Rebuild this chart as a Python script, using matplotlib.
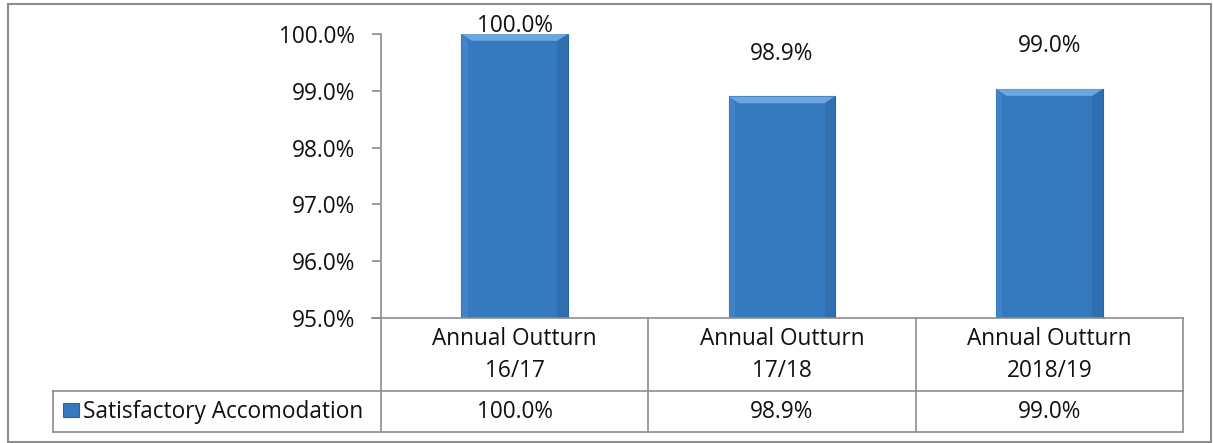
import matplotlib
matplotlib.use("Agg")
import matplotlib.pyplot as plt
import matplotlib.transforms as mtransforms
from matplotlib.patches import Rectangle, Polygon
from matplotlib.lines import Line2D

categories = ["Annual Outturn\n16/17", "Annual Outturn\n17/18", "Annual Outturn\n2018/19"]
values = [100.0, 98.9, 99.03]
value_labels = ["100.0%", "98.9%", "99.0%"]
series_name = "Satisfactory Accomodation"
yticks = [95, 96, 97, 98, 99, 100]

W, H = 1213, 443
plt.rcParams['font.family'] = ['Open Sans', 'DejaVu Sans']
fig = plt.figure(figsize=(W / 100, H / 100), dpi=100)
FS = 16.3

def fx(px):
    return px / W

def fy(py):
    return 1 - py / H

GRID = '#8c8c8c'
BAR = '#3579BF'
TXT = '#111111'

# outer border
fig.add_artist(Rectangle((fx(7.5), fy(442)), fx(1211 - 7.5), fy(4) - fy(442),
                         transform=fig.transFigure, fill=False, edgecolor=GRID, lw=1.5))

ax_l, ax_r, ax_t, ax_b = 381, 1183, 34, 318
ax = fig.add_axes([fx(ax_l), fy(ax_b), fx(ax_r - ax_l), fy(ax_t) - fy(ax_b)])
ax.set_xlim(-0.5, len(categories) - 0.5)
ax.set_ylim(95, 100)
x = list(range(len(categories)))
bars = ax.bar(x, [v - 95 for v in values], bottom=95, width=0.4, color=BAR,
              edgecolor='#2a65a3', lw=0.8, zorder=3)
# bevel highlights
for b in bars:
    x0, w = b.get_x(), b.get_width()
    top = b.get_y() + b.get_height()
    dx = w * 0.1
    dy = 0.12
    ax.add_patch(Polygon([(x0, top), (x0 + w, top), (x0 + w - dx, top - dy), (x0 + dx, top - dy)],
                         closed=True, color='#6aa6df', lw=0, zorder=4))
    ax.add_patch(Polygon([(x0 + w, top), (x0 + w, 95), (x0 + w - dx, 95), (x0 + w - dx, top - dy)],
                         closed=True, color='#2d6aa8', lw=0, zorder=4, alpha=0.6))
    ax.add_patch(Polygon([(x0, top), (x0, 95), (x0 + dx * 0.6, 95), (x0 + dx * 0.6, top - dy)],
                         closed=True, color='#4a8ad0', lw=0, zorder=4, alpha=0.6))

for xi, v, lab in zip(x, values, value_labels):
    ypos = min(v + 0.75, 100.14)
    ax.text(xi, ypos, lab, ha='center', va='center', fontsize=FS, color=TXT,
            zorder=5, clip_on=False)

ax.set_yticks(yticks)
ax.set_yticklabels([f"{t:.1f}%" for t in yticks], fontsize=FS, color=TXT)
ax.tick_params(axis='y', length=6.5, width=1.2, color=GRID, pad=12)
ax.set_xticks([])
for s in ['top', 'right', 'bottom']:
    ax.spines[s].set_visible(False)
ax.spines['left'].set_color(GRID)
ax.spines['left'].set_linewidth(1.2)

# data table
trans = mtransforms.blended_transform_factory(ax.transData, fig.transFigure)
row1_b, row2_b = 391, 432
lkw = dict(color=GRID, lw=1.2, transform=fig.transFigure)
fig.add_artist(Line2D([fx(372), fx(ax_r)], [fy(ax_b), fy(ax_b)], **lkw))
fig.add_artist(Line2D([fx(53), fx(ax_r)], [fy(row1_b), fy(row1_b)], **lkw))
fig.add_artist(Line2D([fx(53), fx(ax_r)], [fy(row2_b), fy(row2_b)], **lkw))
fig.add_artist(Line2D([fx(53), fx(53)], [fy(row1_b), fy(row2_b)], **lkw))
for bx in [x[0] - 0.5] + [xi + 0.5 for xi in x]:
    fig.add_artist(Line2D([bx, bx], [fy(ax_b), fy(row2_b)], color=GRID, lw=1.2, transform=trans))

for xi, cat, lab in zip(x, categories, value_labels):
    fig.text(xi, fy(355), cat, transform=trans, ha='center', va='center', fontsize=FS,
             linespacing=1.4, color=TXT)
    fig.text(xi, fy(412), lab, transform=trans, ha='center', va='center', fontsize=FS,
             color=TXT)

fig.add_artist(Rectangle((fx(63), fy(417)), fx(16), fy(403) - fy(417), transform=fig.transFigure,
                         facecolor=BAR, edgecolor='#2a65a3', lw=0.8))
fig.text(fx(83), fy(412), series_name, ha='left', va='center', fontsize=FS, color=TXT)

fig.savefig("out.png", dpi=100)
